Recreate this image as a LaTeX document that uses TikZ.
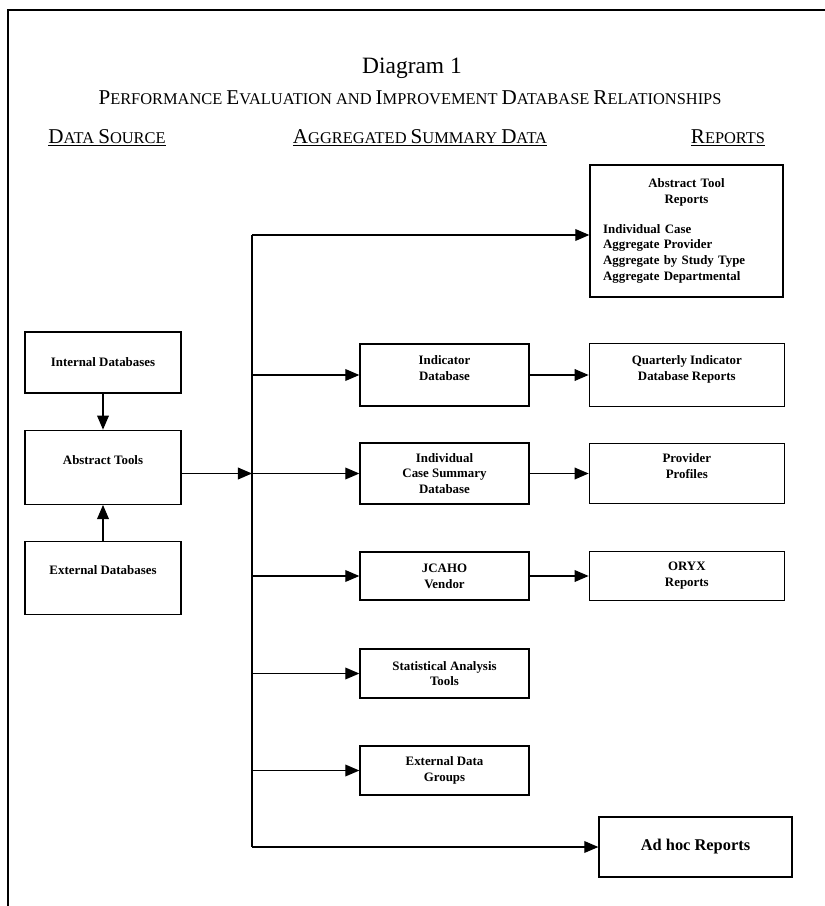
\documentclass[tikz,border=0pt]{standalone}
\usepackage{fontspec}
\setmainfont{Liberation Serif}
\usetikzlibrary{arrows.meta, positioning}

\newcommand{\initcap}[1]{{\fontsize{18}{20}\selectfont #1}}

\begin{document}
\begin{tikzpicture}[x=0.03cm, y=-0.03cm, node distance=1.77cm,
		box/.style={draw, line width=1.1pt, align=center, inner sep=2pt,
			font=\fontsize{11}{13.5}\selectfont\bfseries},
		uptext/.style={text depth=#1},
		srcbox/.style={box, minimum width=4.68cm},
		aggbox/.style={box, minimum width=5.07cm},
		repbox/.style={box, minimum width=5.85cm},
		arr/.style={-{Triangle[length=12pt, width=10pt]}, line width=1.1pt},
		heading/.style={font=\fontsize{14}{16}\selectfont}]
	\useasboundingbox (0,0) rectangle (825,906);
	\draw[line width=1.5pt] (8,906) -- (8,10) -- (825,10);

	% titles
	\node (title) at (412,68) {\fontsize{20}{22}\selectfont Diagram 1};
	\node[heading] (subtitle) at (410,98) {\initcap{P}ERFORMANCE \initcap{E}VALUATION AND \initcap{I}MPROVEMENT \initcap{D}ATABASE \initcap{R}ELATIONSHIPS};
	\node[heading] (hsrc) at (107,138) {\underline{\initcap{D}ATA \initcap{S}OURCE}};
	\node[heading] (hagg) at (420,138) {\underline{\initcap{A}GGREGATED \initcap{S}UMMARY \initcap{D}ATA}};
	\node[heading] (hrep) at (728,138) {\underline{\initcap{R}EPORTS}};

	% data sources
	\node[srcbox, minimum height=1.83cm] (intdb) at (103,362.5) {Internal Databases};
	\node[srcbox, uptext=12pt, minimum height=2.22cm] (abstools) [below=1.08cm of intdb] {Abstract Tools};
	\node[srcbox, uptext=14pt, minimum height=2.19cm] (extdb) [below=1.08cm of abstools] {External Databases};

	% aggregated data
	\node[aggbox, uptext=12pt, minimum height=1.86cm] (inddb) at (444.5,375) {Indicator\\Database};
	\node[aggbox, minimum height=1.83cm] (icsdb) at (444.5,473.5) {Individual\\Case Summary\\Database};
	\node[aggbox, minimum height=1.44cm] (jcaho) at (444.5,576) {JCAHO\\Vendor};
	\node[aggbox, minimum height=1.47cm] (stat) at (444.5,673.5) {Statistical Analysis\\Tools};
	\node[aggbox, minimum height=1.47cm] (extgrp) at (444.5,770.5) {External Data\\Groups};

	% reports
	\node[box, minimum width=5.79cm, minimum height=3.96cm, text width=5.0cm, align=left] (atrep) at (686.5,231)
		{\centering Abstract Tool\\Reports\par\vspace{12pt}\raggedright Individual Case\\Aggregate Provider\\Aggregate by Study Type\\Aggregate Departmental\par\vspace{3pt}};
	\node[repbox, uptext=12pt, minimum height=1.89cm] (qtrrep) [right=of inddb] {Quarterly Indicator\\Database Reports};
	\node[repbox, uptext=13pt, minimum height=1.8cm] (provprof) [right=of icsdb] {Provider\\Profiles};
	\node[repbox, minimum height=1.47cm] (oryx) [right=of jcaho] {ORYX\\Reports};
	\node[box, minimum width=5.79cm, minimum height=1.8cm, font=\fontsize{14}{16}\selectfont\bfseries] (adhoc) at (695.5,847) {Ad hoc Reports};

	\coordinate (bustop) at (252,235);
	\draw[line width=1.1pt] (bustop) -- (bustop |- adhoc);

	\path[arr]
		(intdb)					edge	(abstools)
		(extdb)					edge	(abstools)
		(abstools.east |- icsdb)	edge	(bustop |- icsdb)
		(bustop)				edge	(bustop -| atrep.west)
		(bustop |- inddb)		edge	(inddb)
		(bustop |- icsdb)		edge	(icsdb)
		(bustop |- jcaho)		edge	(jcaho)
		(bustop |- stat)		edge	(stat)
		(bustop |- extgrp)		edge	(extgrp)
		(bustop |- adhoc)		edge	(adhoc)
		(inddb)					edge	(qtrrep)
		(icsdb)					edge	(provprof)
		(jcaho)					edge	(oryx);
\end{tikzpicture}
\end{document}
